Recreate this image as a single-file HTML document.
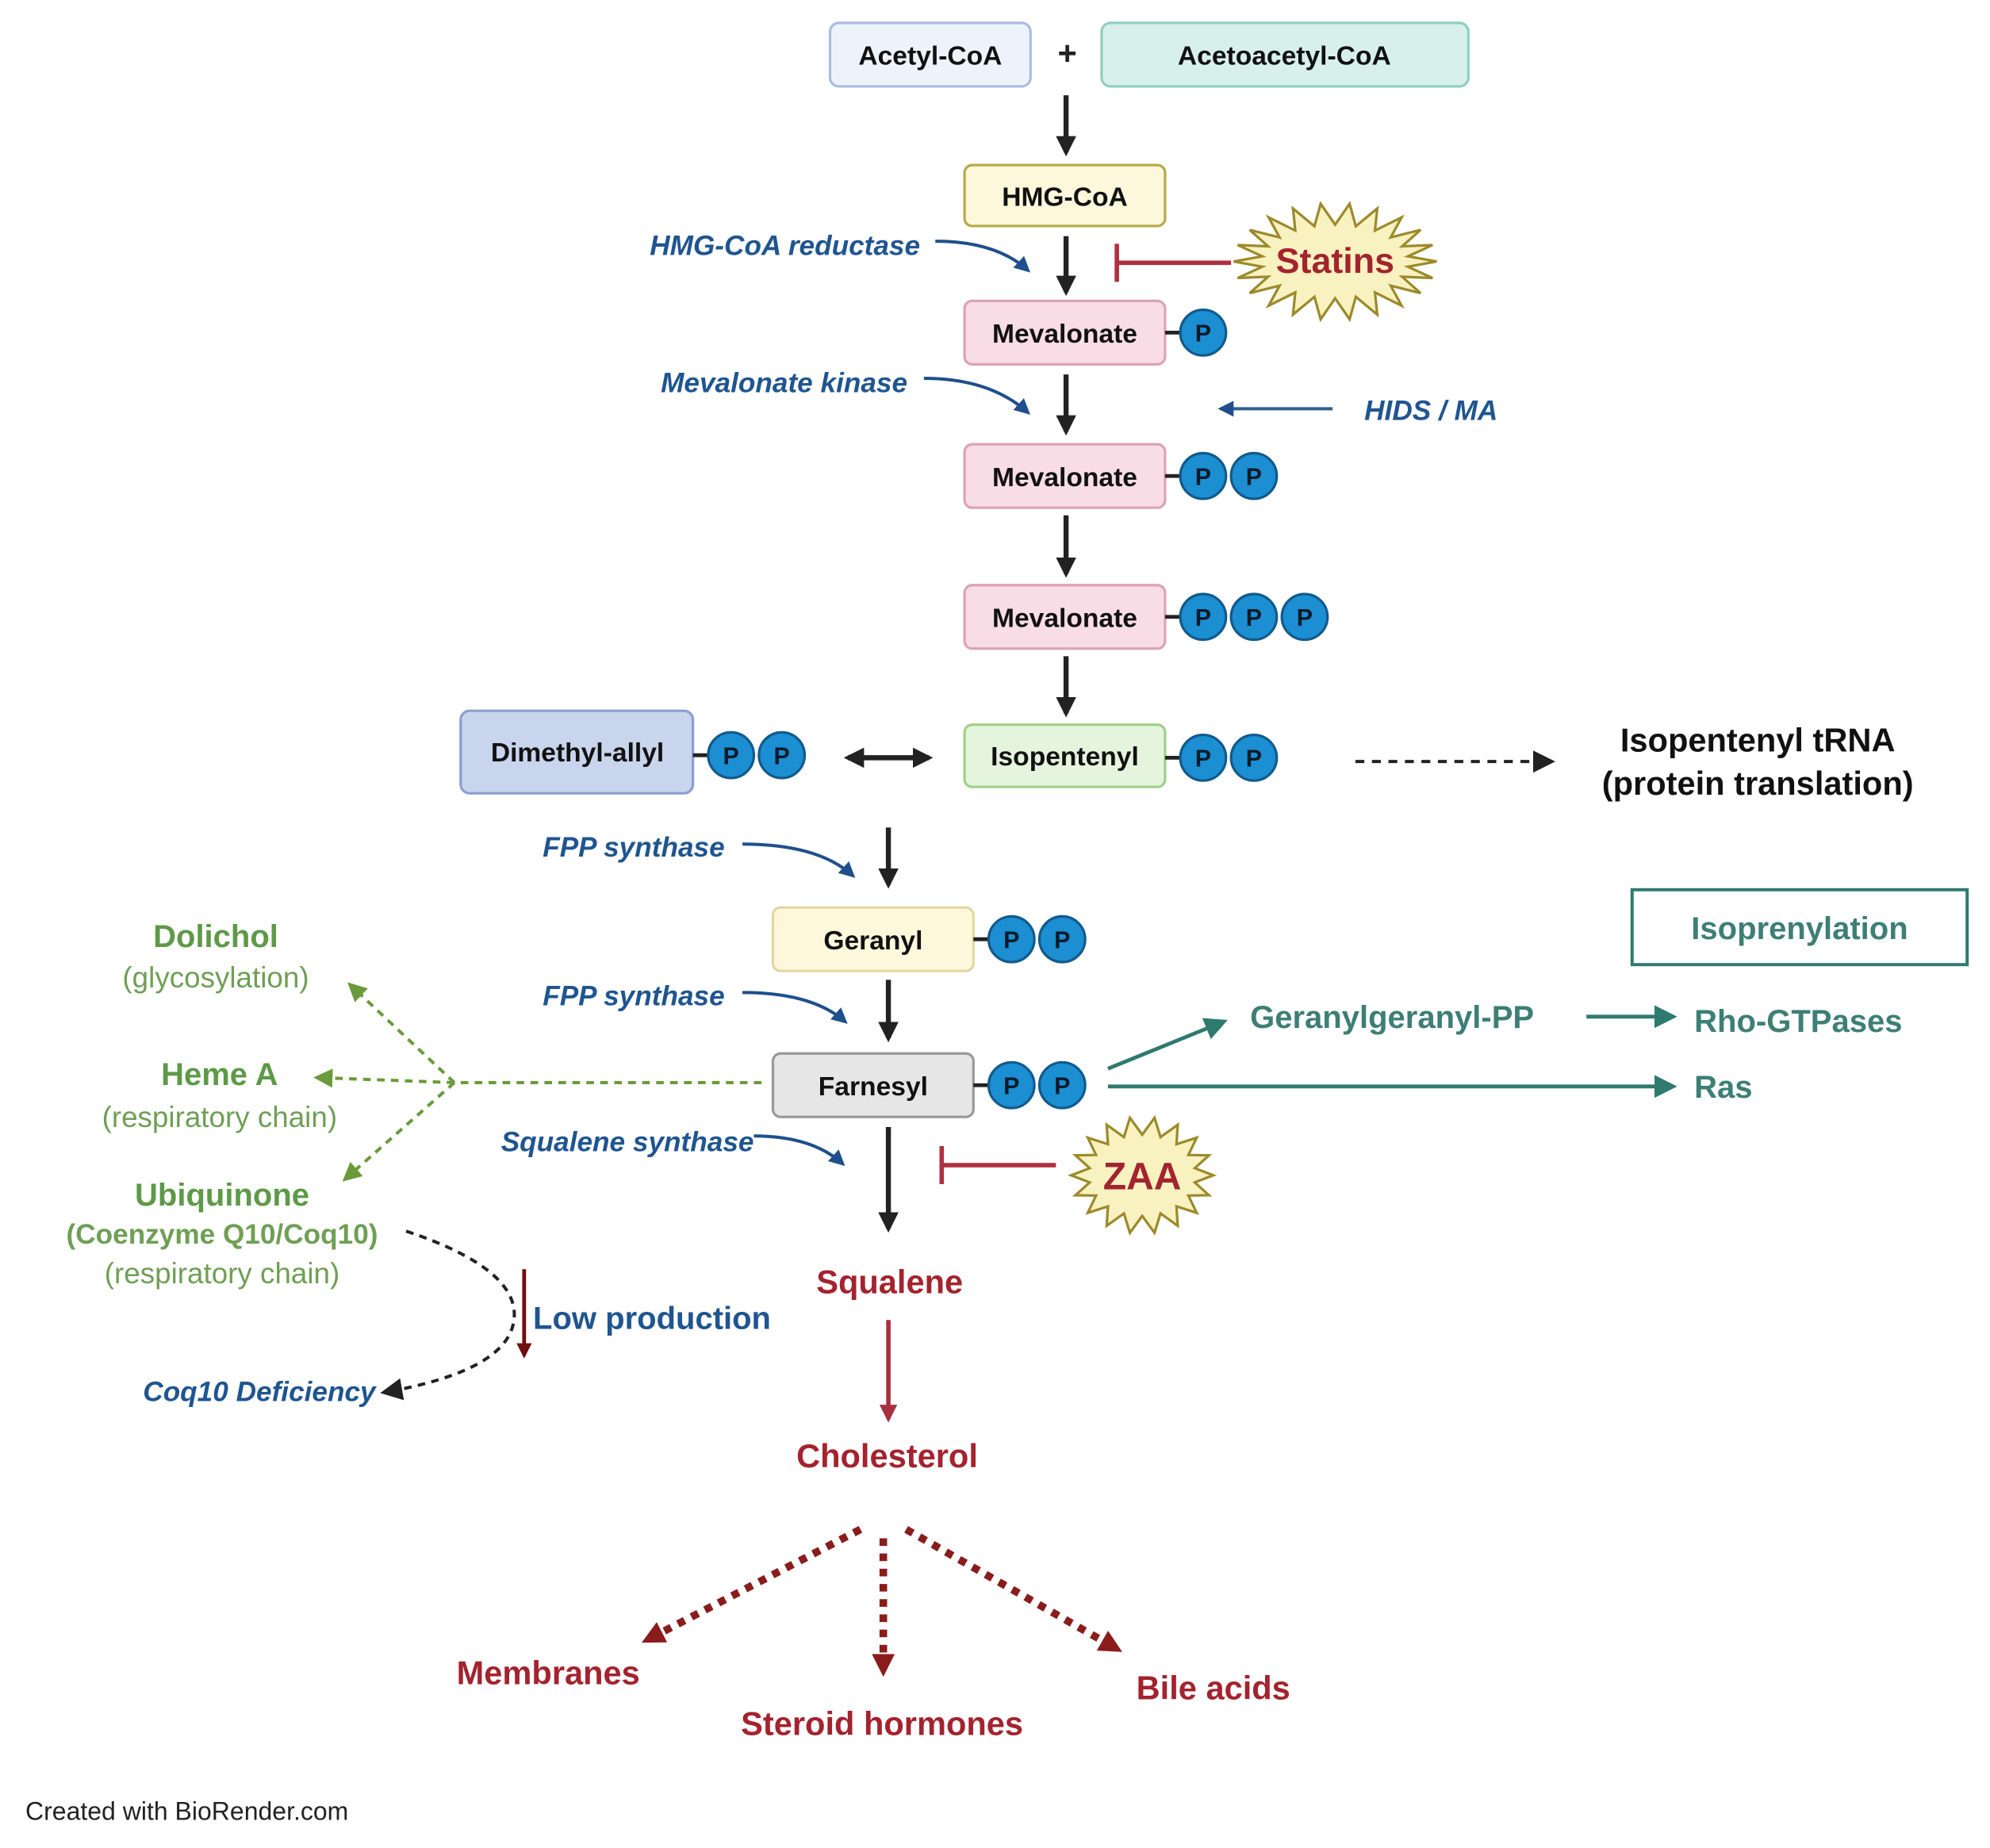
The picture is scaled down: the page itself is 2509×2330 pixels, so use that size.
<!DOCTYPE html>
<html><head><meta charset="utf-8"><style>
html,body{margin:0;padding:0;background:#fff;}
svg{display:block;}
text{font-family:"Liberation Sans",Arial,sans-serif;}
.bx{font-weight:bold;font-size:21px;fill:#111;text-anchor:middle;}
.enz{font-weight:bold;font-style:italic;font-size:22px;fill:#1f5590;}
.p{fill:#1b8fd2;stroke:#125a8c;stroke-width:2;}
.pt{font-weight:bold;font-size:19px;fill:#0b1a2a;text-anchor:middle;}
.red{font-weight:bold;font-size:26px;fill:#a3232e;text-anchor:middle;}
.grn{font-weight:bold;font-size:25px;fill:#5e9948;text-anchor:middle;}
.grn2{font-size:23px;fill:#6f9f55;text-anchor:middle;}
.teal{font-weight:bold;font-size:25px;fill:#3d7f74;}
</style></head><body>
<svg width="2509" height="2330" viewBox="0 0 1568 1456" xmlns="http://www.w3.org/2000/svg">
<defs>
<marker id="ab" viewBox="0 0 10 10" refX="8" refY="5" markerWidth="4" markerHeight="4" orient="auto-start-reverse"><path d="M0,0L10,5L0,10z" fill="#222"/></marker>
<marker id="abl" viewBox="0 0 10 10" refX="8" refY="5" markerWidth="5" markerHeight="5" orient="auto"><path d="M0,0L10,5L0,10z" fill="#1f4f8c"/></marker>
<marker id="at" viewBox="0 0 10 10" refX="8" refY="5" markerWidth="6" markerHeight="6" orient="auto"><path d="M0,0L10,5L0,10z" fill="#2e7a6e"/></marker>
<marker id="ag" viewBox="0 0 10 10" refX="8" refY="5" markerWidth="6" markerHeight="6" orient="auto"><path d="M0,0L10,5L0,10z" fill="#6a9a3a"/></marker>
<marker id="ak" viewBox="0 0 10 10" refX="8" refY="5" markerWidth="7" markerHeight="7" orient="auto"><path d="M0,0L10,5L0,10z" fill="#222"/></marker>
<marker id="ar" viewBox="0 0 10 10" refX="8" refY="5" markerWidth="4" markerHeight="4" orient="auto"><path d="M0,0L10,5L0,10z" fill="#a83040"/></marker>
<marker id="adr" viewBox="0 0 10 10" refX="8" refY="5" markerWidth="4" markerHeight="4" orient="auto"><path d="M0,0L10,5L0,10z" fill="#6e0e0e"/></marker>
<marker id="am" viewBox="0 0 10 10" refX="6" refY="5" markerWidth="3" markerHeight="3" orient="auto"><path d="M0,0L10,5L0,10z" fill="#8a1c1c"/></marker>
</defs>

<rect x="654" y="18" width="158" height="50" rx="7" fill="#eef3fb" stroke="#a9bde0" stroke-width="2"/>
<text class="bx" x="733" y="51">Acetyl-CoA</text>
<text x="841" y="51" font-size="26" font-weight="bold" text-anchor="middle" fill="#222">+</text>
<rect x="868" y="18" width="289" height="50" rx="7" fill="#d7f0ea" stroke="#8fcfc0" stroke-width="2"/>
<text class="bx" x="1012" y="51">Acetoacetyl-CoA</text>

<g stroke="#222" stroke-width="4" fill="none" marker-end="url(#ab)">
<line x1="840" y1="75" x2="840" y2="120"/>
<line x1="840" y1="186" x2="840" y2="230"/>
<line x1="840" y1="295" x2="840" y2="340"/>
<line x1="840" y1="406" x2="840" y2="452"/>
<line x1="840" y1="517" x2="840" y2="562"/>
<line x1="700" y1="652" x2="700" y2="697"/>
<line x1="700" y1="772" x2="700" y2="818"/>
<line x1="700" y1="888" x2="700" y2="968"/>
</g>
<line x1="668" y1="597" x2="732" y2="597" stroke="#222" stroke-width="4" marker-end="url(#ab)" marker-start="url(#ab)"/>

<rect x="760" y="130" width="158" height="48" rx="6" fill="#fdf8dc" stroke="#b8a94a" stroke-width="2"/>
<text class="bx" x="839" y="162">HMG-CoA</text>

<text class="enz" x="725" y="201" text-anchor="end">HMG-CoA reductase</text>
<path d="M737,190 Q785,190 810,213" stroke="#1f4f8c" stroke-width="2.5" fill="none" marker-end="url(#abl)"/>
<text class="enz" x="715" y="309" text-anchor="end">Mevalonate kinase</text>
<path d="M728,298 Q780,298 810,325" stroke="#1f4f8c" stroke-width="2.5" fill="none" marker-end="url(#abl)"/>
<text class="enz" x="571" y="675" text-anchor="end">FPP synthase</text>
<path d="M585,665 Q645,665 672,690" stroke="#1f4f8c" stroke-width="2.5" fill="none" marker-end="url(#abl)"/>
<text class="enz" x="571" y="792" text-anchor="end">FPP synthase</text>
<path d="M585,782 Q640,782 666,805" stroke="#1f4f8c" stroke-width="2.5" fill="none" marker-end="url(#abl)"/>
<text class="enz" x="594" y="907" text-anchor="end" font-size="24">Squalene synthase</text>
<path d="M594,895 Q640,895 664,917" stroke="#1f4f8c" stroke-width="2.5" fill="none" marker-end="url(#abl)"/>
<text class="enz" x="1075" y="331" font-size="25">HIDS / MA</text>
<line x1="1050" y1="322" x2="962" y2="322" stroke="#2f5f90" stroke-width="2.5" marker-end="url(#abl)"/>

<polygon id="s1" fill="#f8f1c0" stroke="#9c8a2a" stroke-width="2"/>
<text x="1052" y="215" font-size="28" font-weight="bold" fill="#a3232e" text-anchor="middle">Statins</text>
<line x1="970" y1="207" x2="880" y2="207" stroke="#b03040" stroke-width="3.5"/>
<line x1="880" y1="192" x2="880" y2="222" stroke="#b03040" stroke-width="3.5"/>

<g>
<rect x="760" y="237" width="158" height="50" rx="6" fill="#f8dde6" stroke="#dba3b7" stroke-width="2"/>
<text class="bx" x="839" y="270">Mevalonate</text>
<line x1="918" y1="262" x2="932" y2="262" stroke="#222" stroke-width="3"/>
<circle class="p" cx="948" cy="262" r="18"/><text class="pt" x="948" y="269">P</text>

<rect x="760" y="350" width="158" height="50" rx="6" fill="#f8dde6" stroke="#dba3b7" stroke-width="2"/>
<text class="bx" x="839" y="383">Mevalonate</text>
<line x1="918" y1="375" x2="932" y2="375" stroke="#222" stroke-width="3"/>
<circle class="p" cx="948" cy="375" r="18"/><text class="pt" x="948" y="382">P</text>
<circle class="p" cx="988" cy="375" r="18"/><text class="pt" x="988" y="382">P</text>

<rect x="760" y="461" width="158" height="50" rx="6" fill="#f8dde6" stroke="#dba3b7" stroke-width="2"/>
<text class="bx" x="839" y="494">Mevalonate</text>
<line x1="918" y1="486" x2="932" y2="486" stroke="#222" stroke-width="3"/>
<circle class="p" cx="948" cy="486" r="18"/><text class="pt" x="948" y="493">P</text>
<circle class="p" cx="988" cy="486" r="18"/><text class="pt" x="988" y="493">P</text>
<circle class="p" cx="1028" cy="486" r="18"/><text class="pt" x="1028" y="493">P</text>
</g>

<rect x="363" y="560" width="183" height="65" rx="7" fill="#c9d4ed" stroke="#8a9fcf" stroke-width="2"/>
<text class="bx" x="455" y="600">Dimethyl-allyl</text>
<line x1="546" y1="595" x2="560" y2="595" stroke="#222" stroke-width="3"/>
<circle class="p" cx="576" cy="595" r="18"/><text class="pt" x="576" y="602">P</text>
<circle class="p" cx="616" cy="595" r="18"/><text class="pt" x="616" y="602">P</text>

<rect x="760" y="571" width="158" height="49" rx="6" fill="#e5f5dd" stroke="#9fd08a" stroke-width="2"/>
<text class="bx" x="839" y="603">Isopentenyl</text>
<line x1="918" y1="597" x2="932" y2="597" stroke="#222" stroke-width="3"/>
<circle class="p" cx="948" cy="597" r="18"/><text class="pt" x="948" y="604">P</text>
<circle class="p" cx="988" cy="597" r="18"/><text class="pt" x="988" y="604">P</text>
<line x1="1068" y1="600" x2="1222" y2="600" stroke="#222" stroke-width="2.5" stroke-dasharray="7,6" marker-end="url(#ak)"/>
<text x="1385" y="592" font-size="26" font-weight="bold" text-anchor="middle" fill="#111">Isopentenyl tRNA</text>
<text x="1385" y="626" font-size="26" font-weight="bold" text-anchor="middle" fill="#111">(protein translation)</text>

<rect x="609" y="715" width="158" height="50" rx="6" fill="#fdf8dc" stroke="#e3d6a0" stroke-width="2"/>
<text class="bx" x="688" y="748">Geranyl</text>
<line x1="767" y1="740" x2="781" y2="740" stroke="#222" stroke-width="3"/>
<circle class="p" cx="797" cy="740" r="18"/><text class="pt" x="797" y="747">P</text>
<circle class="p" cx="837" cy="740" r="18"/><text class="pt" x="837" y="747">P</text>

<rect x="609" y="830" width="158" height="50" rx="6" fill="#e6e6e6" stroke="#999" stroke-width="2"/>
<text class="bx" x="688" y="863">Farnesyl</text>
<line x1="767" y1="855" x2="781" y2="855" stroke="#222" stroke-width="3"/>
<circle class="p" cx="797" cy="855" r="18"/><text class="pt" x="797" y="862">P</text>
<circle class="p" cx="837" cy="855" r="18"/><text class="pt" x="837" y="862">P</text>

<rect x="1286" y="701" width="264" height="59" fill="#fff" stroke="#2e7a6e" stroke-width="2.5"/>
<text class="teal" x="1418" y="740" text-anchor="middle" font-size="27">Isoprenylation</text>
<line x1="873" y1="842" x2="964" y2="805" stroke="#2e7a6e" stroke-width="3" marker-end="url(#at)"/>
<text class="teal" x="985" y="810">Geranylgeranyl-PP</text>
<line x1="1250" y1="801" x2="1318" y2="801" stroke="#2e7a6e" stroke-width="3" marker-end="url(#at)"/>
<text class="teal" x="1335" y="813">Rho-GTPases</text>
<line x1="873" y1="856" x2="1318" y2="856" stroke="#2e7a6e" stroke-width="3" marker-end="url(#at)"/>
<text class="teal" x="1335" y="865">Ras</text>

<g stroke="#6a9a3a" stroke-width="2.5" stroke-dasharray="6,5" fill="none">
<line x1="600" y1="853" x2="358" y2="853"/>
<line x1="358" y1="853" x2="276" y2="776" marker-end="url(#ag)"/>
<line x1="358" y1="853" x2="250" y2="849" marker-end="url(#ag)"/>
<line x1="358" y1="853" x2="272" y2="929" marker-end="url(#ag)"/>
</g>
<text class="grn" x="170" y="746">Dolichol</text>
<text class="grn2" x="170" y="778">(glycosylation)</text>
<text class="grn" x="173" y="855">Heme A</text>
<text class="grn2" x="173" y="888">(respiratory chain)</text>
<text class="grn" x="175" y="950">Ubiquinone</text>
<text x="175" y="980" font-size="22" font-weight="bold" fill="#6f9f55" text-anchor="middle">(Coenzyme Q10/Coq10)</text>
<text class="grn2" x="175" y="1011">(respiratory chain)</text>

<path d="M320,970 Q410,1000 405,1040 Q400,1080 303,1097" stroke="#222" stroke-width="2.5" stroke-dasharray="6,5" fill="none" marker-end="url(#ak)"/>
<line x1="413" y1="1000" x2="413" y2="1068" stroke="#6e0e0e" stroke-width="3" marker-end="url(#adr)"/>
<text x="420" y="1047" font-size="25" font-weight="bold" fill="#1f5590">Low production</text>
<text class="enz" x="296" y="1104" text-anchor="end" font-size="25">Coq10 Deficiency</text>

<polygon id="s2" fill="#f8f1c0" stroke="#9c8a2a" stroke-width="2"/>
<text x="900" y="937" font-size="30" font-weight="bold" fill="#a3232e" text-anchor="middle">ZAA</text>
<line x1="832" y1="918" x2="742" y2="918" stroke="#b03040" stroke-width="3.5"/>
<line x1="742" y1="903" x2="742" y2="933" stroke="#b03040" stroke-width="3.5"/>

<text class="red" x="701" y="1019">Squalene</text>
<line x1="700" y1="1040" x2="700" y2="1118" stroke="#a83040" stroke-width="3.5" marker-end="url(#ar)"/>
<text class="red" x="699" y="1156">Cholesterol</text>
<g stroke="#8a1c1c" stroke-width="6" stroke-dasharray="6,6" fill="none" marker-end="url(#am)">
<line x1="678" y1="1205" x2="512" y2="1291"/>
<line x1="696" y1="1212" x2="696" y2="1314"/>
<line x1="714" y1="1205" x2="878" y2="1298"/>
</g>
<text class="red" x="432" y="1327">Membranes</text>
<text class="red" x="695" y="1367">Steroid hormones</text>
<text class="red" x="956" y="1339">Bile acids</text>

<text x="20" y="1434" font-size="20" fill="#222">Created with BioRender.com</text>
</svg>
<script>
function star(id,cx,cy,ro,ry,ri,riy,n){var p=[];for(var i=0;i<2*n;i++){var a=Math.PI*i/n;var o=i%2==0;p.push((cx+(o?ro:ri)*Math.cos(a)).toFixed(1)+","+(cy+(o?ry:riy)*Math.sin(a)).toFixed(1));}document.getElementById(id).setAttribute("points",p.join(" "));}
star("s1",1052,206,80,46,58,29,22);
star("s2",900,926,56,46,42,32,18);
</script>
</body></html>
